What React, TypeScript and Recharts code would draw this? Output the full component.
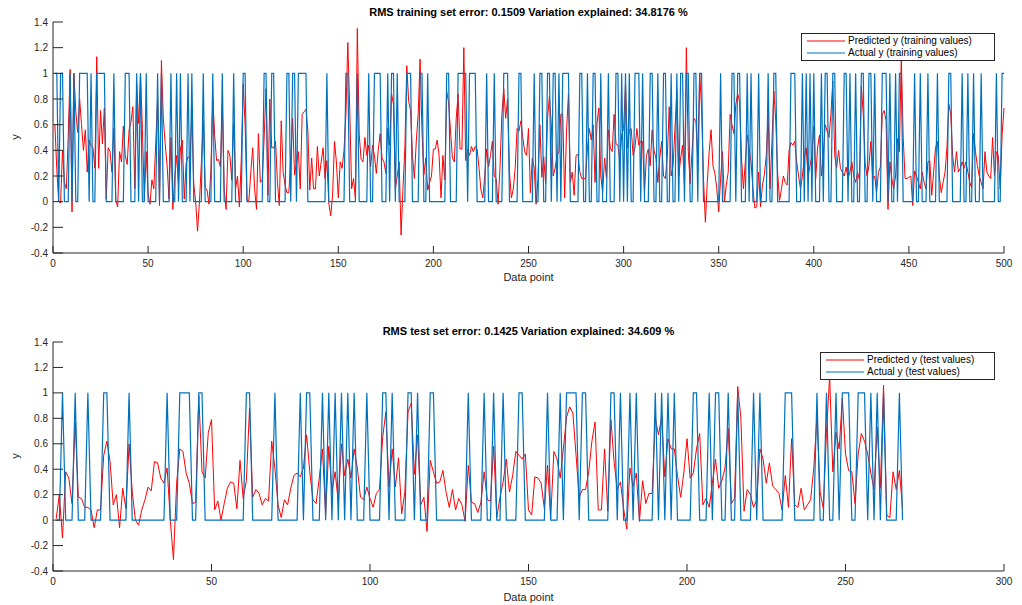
import { LineChart, Line, XAxis, YAxis } from "recharts";

// values, one per data point (x = 1..N)
const trainPredicted = [
  0.6, 0.25, 0.0, -0.01, 0.4, 0.15, 0.1, 0.5, 1.03, -0.08, 1.0, 0.7, 0.54, 0.8, 0.6, 0.4, 0.56, 0.23, 0.48, 0.44, 0.42, 0.26, 1.13, 0.26, 0.71,
  0.45, 0.73, 0.02, 0.42, 0.39, 0.23, 0.57, 0.01, -0.04, 0.39, 0.31, 0.59, 0.36, 0.29, 0.56, 0.62, 0.74, 0.1, 0.92, 0.61, 1.0, 0.57, 0.01, 0.39, 0.06,
  -0.02, 0.17, 0.1, 0.45, 0.81, -0.03, 1.1, 0.65, 0.45, 0.28, 0.02, 0.5, -0.06, 0.18, 0.36, 0.13, 0.41, 0.48, 0.02, 0.3, 0.35, 0.34, 0.68, 0.14, 0.0,
  -0.23, 0.0, 0.3, 0.63, 0.11, 0.09, -0.02, 0.24, 0.81, 0.52, 0.32, 0.33, 0.27, 0.76, 0.1, -0.06, 0.4, 0.36, 0.17, 0.61, 0.1, 0.2, -0.04, 0.34, 0.92,
  0.6, 0.01, 0.01, 0.23, 0.42, 0.1, -0.06, 0.53, 0.15, 0.17, 0.49, 0.88, 0.05, 0.8, 0.42, 0.42, 0.47, 0.15, -0.03, 0.63, 0.23, 0.13, 0.07, 0.07, 0.35,
  0.65, 0.21, 0.3, 0.39, 0.1, 0.68, 0.7, 0.72, 0.55, 0.09, 0.34, 0.1, 0.1, 0.43, 0.2, 0.31, 0.42, 0.18, 0.32, -0.01, -0.11, 0.05, 0.47, 0.31, 0.03,
  0.31, 0.26, 0.4, 0.68, 1.24, 0.73, 0.1, 0.18, 0.02, 1.35, 0.52, 0.33, 0.31, 0.5, 0.36, 0.44, 0.27, 0.44, 0.36, 0.22, 0.4, 0.53, 0.34, 0.31, 0.22,
  0.57, 0.44, 0.84, 0.76, 0.1, 0.2, 0.31, -0.26, 0.1, 0.42, 1.06, 0.78, 0.71, 0.36, 0.18, 0.47, 0.68, 1.11, 0.55, 0.21, 0.34, 0.09, 0.15, 0.2, 0.41,
  0.41, 0.48, 0.36, 0.03, 0.36, 0.17, 0.86, 0.77, 0.55, 0.34, 0.31, 0.65, 0.84, 0.41, 0.41, 1.2, 0.32, 0.41, 0.36, 0.43, 0.39, 0.43, 0.41, 0.26, 0.09,
  0.03, 0.2, 0.41, 0.27, 0.36, 0.47, 0.2, 0.18, -0.02, 0.26, 0.68, 0.88, 0.65, 0.8, 0.23, 0.03, 0.1, 0.26, 0.57, 0.55, 0.63, 0.5, 0.39, 0.36, 0.57,
  0.07, 0.34, 0.26, -0.02, 0.18, 0.6, 0.19, 0.35, 0.14, 0.65, 0.82, 0.6, 0.2, 0.26, 0.36, 0.39, 0.68, 0.68, 0.03, 0.55, 0.84, 0.15, 0.23, 0.05, 0.36,
  0.37, 0.23, 0.18, 0.18, 0.18, 0.42, 0.57, 0.48, 0.6, 0.15, 0.61, 0.73, 0.2, 0.07, 0.34, 0.18, 0.56, 0.42, 0.39, 0.68, 0.45, 0.44, 0.32, 0.52, 0.57,
  0.92, 0.42, 0.56, 0.57, 0.36, 0.42, 0.57, 0.44, 0.47, 0.47, 0.07, 0.36, 0.41, 0.28, 0.56, 0.4, 0.34, 0.15, 0.34, 0.47, 0.2, 0.18, 0.36, 0.74, 0.2,
  0.28, 0.57, 0.86, 0.2, 0.34, 0.44, 0.13, 1.2, 0.39, 0.14, 0.4, 0.65, 0.63, 0.34, 1.0, 0.73, 0.18, -0.16, 0.15, 0.39, 0.56, 0.28, 0.22, 0.1, -0.08,
  0.18, 0.39, 0.0, 0.13, 0.23, 0.68, 0.6, 0.53, 0.76, 0.84, 0.78, 0.34, 0.1, 0.31, 0.52, 0.42, 0.31, 0.1, -0.05, -0.04, 0.23, -0.04, 0.13, 0.21, 0.36,
  0.68, 0.1, 0.47, 0.86, 0.63, 0.22, 0.01, 0.1, 0.2, 0.15, 0.13, 0.4, 0.46, 0.44, 0.47, 0.31, 0.2, 0.1, 0.2, 0.34, 0.42, 0.2, 0.28, 0.36, 0.59,
  0.18, 0.42, 0.52, 0.2, 0.36, 0.6, 0.55, 0.5, 0.68, 0.94, 0.36, 0.26, 0.4, 0.26, 0.23, 0.2, 0.27, 0.18, 0.23, 0.31, 0.2, 0.15, 0.23, 0.17, 0.9,
  0.68, 0.3, 0.2, 0.28, 0.47, 0.18, 0.2, 0.07, 0.23, 0.27, 0.68, 0.71, 0.63, -0.06, 0.31, 0.18, 0.1, 0.2, 0.49, 0.39, 1.13, 0.5, 0.18, 0.18, 0.19,
  0.2, -0.03, 0.24, 0.2, 0.15, 0.1, 0.23, 0.15, 0.1, 0.31, 0.32, 0.05, 0.23, 0.42, 0.47, 0.2, 0.07, 0.15, 0.23, 0.42, 0.76, 0.68, 0.36, 0.23, 0.39,
  0.23, 0.26, 0.31, 0.26, 0.31, 0.23, 0.15, 0.11, 0.53, 0.39, 0.28, 0.2, 0.15, 0.1, 0.39, 0.23, 0.2, 0.18, 0.5, 0.2, 0.39, 0.36, 0.1, 0.52, 0.73,
];

const trainActual = [
  1, 1, 0, 1, 1, 0, 0, 0, 1, 0, 1, 0, 0, 1, 1, 1, 1, 1, 0, 1, 0, 0, 1, 1, 1,
  1, 1, 0, 0, 0, 0, 1, 0, 0, 0, 0, 0, 1, 1, 1, 0, 0, 0, 1, 0, 1, 0, 0, 1, 0,
  0, 0, 0, 0, 1, 0, 1, 0, 0, 0, 0, 1, 0, 0, 1, 0, 1, 0, 0, 0, 1, 0, 1, 0, 0,
  0, 0, 0, 1, 0, 0, 0, 0, 1, 0, 0, 0, 0, 1, 0, 0, 0, 0, 0, 1, 0, 0, 0, 0, 1,
  1, 0, 0, 0, 0, 0, 0, 0, 0, 0, 1, 1, 0, 0, 1, 1, 0, 0, 0, 0, 0, 0, 1, 1, 0,
  1, 1, 0, 1, 1, 1, 1, 1, 0, 0, 0, 0, 0, 0, 0, 0, 0, 0, 1, 0, 0, 0, 0, 0, 0,
  0, 0, 0, 1, 1, 0, 0, 0, 0, 1, 0, 0, 0, 0, 0, 1, 0, 0, 1, 1, 1, 1, 0, 0, 0,
  1, 0, 1, 1, 0, 1, 0, 0, 0, 0, 1, 1, 1, 0, 0, 0, 0, 1, 1, 0, 0, 1, 0, 0, 0,
  0, 0, 0, 0, 0, 0, 1, 1, 0, 0, 0, 0, 1, 1, 1, 1, 1, 0, 1, 1, 1, 1, 0, 0, 0,
  0, 0, 1, 0, 0, 0, 1, 0, 0, 0, 0, 1, 1, 1, 0, 0, 0, 0, 0, 1, 1, 0, 0, 0, 0,
  0, 0, 1, 0, 0, 1, 1, 0, 0, 1, 1, 0, 1, 1, 0, 1, 0, 1, 1, 1, 1, 0, 0, 0, 0,
  0, 1, 1, 0, 0, 1, 0, 0, 1, 1, 0, 0, 1, 0, 0, 0, 1, 0, 0, 0, 1, 1, 0, 1, 0,
  1, 0, 1, 0, 0, 1, 1, 1, 0, 1, 0, 0, 0, 1, 1, 0, 0, 1, 0, 0, 1, 1, 0, 0, 1,
  0, 0, 1, 0, 1, 1, 0, 1, 1, 0, 0, 1, 1, 0, 1, 1, 0, 0, 0, 0, 0, 0, 0, 0, 0,
  1, 0, 0, 0, 0, 0, 1, 1, 0, 1, 1, 0, 0, 0, 1, 0, 1, 0, 0, 0, 1, 0, 0, 0, 0,
  1, 0, 0, 1, 1, 0, 0, 0, 0, 0, 0, 0, 1, 1, 1, 0, 0, 0, 1, 0, 1, 0, 1, 0, 1,
  0, 0, 0, 1, 0, 1, 1, 0, 0, 1, 1, 0, 0, 0, 0, 1, 1, 0, 1, 0, 0, 1, 0, 0, 1,
  1, 0, 0, 1, 1, 0, 1, 0, 0, 0, 1, 1, 1, 0, 1, 0, 0, 1, 0, 1, 1, 0, 0, 0, 0,
  0, 0, 1, 0, 0, 1, 0, 0, 0, 1, 0, 0, 0, 0, 1, 0, 0, 0, 0, 0, 1, 1, 0, 0, 0,
  0, 0, 1, 0, 0, 1, 0, 0, 1, 0, 0, 0, 1, 0, 0, 0, 0, 0, 0, 0, 1, 0, 0, 1, 1,
];

const testPredicted = [
  0.01, 0.2, -0.14, 0.38, 0.33, 0.13, 0.77, 0.18, 0.17, 0.1, 0.1, 0.08, -0.06, 0.08, 0.08, 0.51, 0.62, 0.46, 0.12, 0.2, -0.06, 0.25, 0.09, 0.6, 0.22,
  0.0, -0.04, 0.08, 0.16, 0.26, 0.23, 0.46, 0.45, 0.33, 0.29, 0.41, 0.0, -0.31, 0.29, 0.56, 0.54, 0.37, 0.29, 0.13, 0.14, 0.98, 0.38, 0.33, 0.69, 0.79,
  0.08, 0.15, 0.0, 0.13, 0.25, 0.3, 0.29, 0.09, 0.47, 0.17, 0.31, 0.88, 0.18, 0.24, 0.21, 0.12, 0.17, 0.15, 0.62, 0.41, 0.12, 0.02, 0.16, 0.12, 0.25,
  0.35, 0.37, 0.34, 0.41, 0.67, 0.38, 0.16, 0.13, 0.33, 0.56, 0.04, 0.58, 0.22, 0.38, 0.14, 0.6, 0.35, 0.48, 0.33, 0.56, 0.41, 0.18, 0.16, 0.26, 0.17,
  0.1, 0.21, 0.24, 0.65, 0.85, 0.26, 0.56, 0.26, 0.49, 0.05, 0.22, 0.85, 0.92, 0.36, 0.67, 0.12, 0.18, -0.09, 0.47, 0.38, 0.29, 0.3, 0.39, 0.22, 0.1,
  0.24, 0.08, 0.17, 0.12, -0.01, 0.43, 0.14, 0.13, 0.06, 0.14, 0.38, 0.16, 0.15, 0.58, 0.02, 0.18, 0.3, 0.48, 0.22, 0.35, 0.54, 0.51, 0.48, 0.52, 0.08,
  0.04, 0.34, 0.33, 0.29, 0.09, 0.43, 0.01, 0.54, 0.48, 0.33, 0.56, 0.81, 0.89, 0.84, 0.51, 0.18, 0.24, 0.24, 0.38, 0.62, 0.77, 0.08, 0.08, 0.56, 0.07,
  0.79, 0.46, 0.24, 0.3, 0.09, -0.07, 0.41, 0.26, 0.37, -0.01, 0.31, 0.13, 0.21, 0.21, 0.8, 0.67, 0.81, 0.34, 0.64, 0.56, 0.56, 0.35, 0.18, 0.37, 0.64,
  0.33, 0.37, 0.56, 0.68, 0.12, 0.17, 0.1, 0.29, 0.48, 0.25, 0.31, 0.41, 0.72, 0.13, 0.17, 1.05, 0.8, 0.07, 0.24, 0.2, 0.1, 0.16, 0.56, 0.48, 0.29,
  0.45, 0.27, 0.24, 0.21, 0.08, 0.35, 0.1, 0.64, 0.12, 0.1, 0.25, 0.08, 0.12, 0.16, 0.41, 0.81, 0.22, 0.09, 0.69, 1.13, 0.38, 0.69, 0.56, 0.96, 0.52,
  0.39, 0.38, 0.13, 0.52, 0.68, 0.62, 0.52, 0.37, 0.24, 0.73, 0.25, 1.06, 0.04, 0.02, 0.38, 0.24, 0.39, 0.09,
];

const testActual = [
  0, 0, 1, 0, 0, 0, 1, 0, 0, 0, 1, 0, 0, 0, 0, 1, 1, 0, 0, 0, 0, 0, 0, 1, 0,
  0, 0, 0, 0, 0, 0, 0, 0, 0, 0, 1, 0, 0, 0, 1, 1, 1, 1, 0, 0, 1, 1, 0, 0, 0,
  0, 0, 0, 0, 0, 0, 0, 0, 0, 0, 1, 1, 0, 0, 0, 0, 0, 0, 0, 1, 0, 0, 0, 0, 0,
  0, 0, 1, 0, 1, 1, 0, 0, 0, 1, 0, 1, 0, 1, 0, 1, 0, 1, 0, 1, 0, 0, 0, 1, 0,
  0, 0, 0, 1, 1, 0, 1, 0, 0, 0, 0, 1, 1, 0, 1, 0, 0, 0, 1, 1, 0, 0, 0, 0, 0,
  0, 0, 0, 0, 0, 1, 0, 0, 0, 0, 1, 0, 0, 1, 0, 0, 1, 0, 0, 0, 0, 1, 1, 0, 0,
  0, 0, 0, 0, 0, 1, 0, 0, 0, 1, 0, 1, 1, 1, 1, 0, 1, 1, 0, 0, 0, 0, 0, 0, 0,
  1, 1, 0, 1, 0, 0, 1, 0, 1, 0, 0, 0, 0, 0, 1, 0, 1, 0, 1, 0, 1, 0, 0, 0, 0,
  0, 1, 1, 0, 0, 0, 1, 0, 1, 1, 0, 0, 1, 0, 0, 1, 0, 0, 0, 0, 1, 0, 1, 0, 0,
  0, 0, 0, 0, 0, 1, 1, 1, 0, 0, 0, 0, 0, 0, 0, 1, 0, 0, 1, 0, 0, 1, 0, 1, 1,
  1, 0, 0, 1, 1, 1, 0, 1, 0, 1, 0, 1, 0, 0, 0, 0, 1, 0,
];

const trainXTicks = [0, 50, 100, 150, 200, 250, 300, 350, 400, 450, 500];
const testXTicks = [0, 50, 100, 150, 200, 250, 300];
const yTicks = [-0.4, -0.2, 0, 0.2, 0.4, 0.6, 0.8, 1, 1.2, 1.4];

const trainData = trainPredicted.map((p, i) => ({ x: i + 1, predicted: p, actual: trainActual[i] }));
const testData = testPredicted.map((p, i) => ({ x: i + 1, predicted: p, actual: testActual[i] }));

const FONT = '"Liberation Sans", Arial, Helvetica, sans-serif';
const AXIS = "#262626";
const RED = "#ff0000";
const BLUE = "#0072bd";

const PLOT_LEFT = 53;
const PLOT_RIGHT = 1004;

// inward tick marks like MATLAB's box axes
const bottomTick = (axisY: number) => (props: any) => {
  const { x, payload } = props;
  return (
    <g>
      <line x1={x} x2={x} y1={axisY} y2={axisY - 7} stroke={AXIS} strokeWidth={1} />
      <text x={x} y={axisY + 14} textAnchor="middle" fontSize={10} fill={AXIS} fontFamily={FONT}>
        {payload.value}
      </text>
    </g>
  );
};

const topTick = (axisY: number) => (props: any) => {
  const { x } = props;
  return <line x1={x} x2={x} y1={axisY} y2={axisY + 7} stroke={AXIS} strokeWidth={1} />;
};

const leftTick = (props: any) => {
  const { y, payload } = props;
  return (
    <g>
      <line x1={PLOT_LEFT} x2={PLOT_LEFT + 10} y1={y} y2={y} stroke={AXIS} strokeWidth={1} />
      <text x={PLOT_LEFT - 5} y={y + 3.5} textAnchor="end" fontSize={10} fill={AXIS} fontFamily={FONT}>
        {String(payload.value)}
      </text>
    </g>
  );
};

const rightTick = (props: any) => {
  const { y } = props;
  return <line x1={PLOT_RIGHT} x2={PLOT_RIGHT - 10} y1={y} y2={y} stroke={AXIS} strokeWidth={1} />;
};

type PanelProps = {
  data: { x: number; predicted: number; actual: number }[];
  xMax: number;
  xTicks: number[];
  top: number;
  height: number;
  plotTop: number;
  plotBottom: number;
};

const Panel = ({ data, xMax, xTicks, top, height, plotTop, plotBottom }: PanelProps) => (
  <div style={{ position: "absolute", left: 0, top }}>
    <LineChart
      width={1022}
      height={height}
      data={data}
      margin={{ top: plotTop, right: 1022 - PLOT_RIGHT, bottom: height - plotBottom - 20, left: PLOT_LEFT - 45 }}
    >
      <XAxis
        dataKey="x"
        type="number"
        domain={[0, xMax]}
        ticks={xTicks}
        interval={0}
        height={20}
        tickLine={false}
        axisLine={{ stroke: AXIS }}
        tick={bottomTick(plotBottom)}
      />
      <XAxis
        xAxisId="top"
        orientation="top"
        dataKey="x"
        type="number"
        domain={[0, xMax]}
        ticks={xTicks}
        interval={0}
        height={0}
        tickLine={false}
        axisLine={{ stroke: AXIS }}
        tick={topTick(plotTop)}
      />
      <YAxis
        type="number"
        domain={[-0.4, 1.4]}
        ticks={yTicks}
        interval={0}
        width={45}
        tickLine={false}
        axisLine={{ stroke: AXIS }}
        tick={leftTick}
        allowDataOverflow
      />
      <YAxis
        yAxisId="right"
        orientation="right"
        type="number"
        domain={[-0.4, 1.4]}
        ticks={yTicks}
        interval={0}
        width={0}
        tickLine={false}
        axisLine={{ stroke: AXIS }}
        tick={rightTick}
        allowDataOverflow
      />
      <Line type="linear" dataKey="predicted" stroke={RED} strokeWidth={1} dot={false} isAnimationActive={false} />
      <Line type="linear" dataKey="actual" stroke={BLUE} strokeWidth={1.2} dot={false} isAnimationActive={false} />
    </LineChart>
  </div>
);

const Legend = ({ left, top, width, labels }: { left: number; top: number; width: number; labels: string[] }) => (
  <div
    style={{
      position: "absolute",
      left,
      top,
      width,
      height: 26,
      border: `1px solid ${AXIS}`,
      background: "#fff",
      fontFamily: FONT,
      fontSize: 10,
      color: "#000",
    }}
  >
    {labels.map((label, i) => (
      <div key={label} style={{ position: "absolute", left: 0, top: 1 + i * 12, height: 12, width: "100%" }}>
        <svg width={44} height={12} style={{ position: "absolute", left: 3, top: 0 }}>
          <line x1={2} x2={40} y1={6} y2={6} stroke={i === 0 ? RED : BLUE} strokeWidth={1.2} />
        </svg>
        <span style={{ position: "absolute", left: 46, top: 0, lineHeight: "12px", whiteSpace: "nowrap" }}>{label}</span>
      </div>
    ))}
  </div>
);

const Title = ({ top, text }: { top: number; text: string }) => (
  <div
    style={{
      position: "absolute",
      left: PLOT_LEFT,
      width: PLOT_RIGHT - PLOT_LEFT,
      top,
      textAlign: "center",
      fontFamily: FONT,
      fontWeight: "bold",
      fontSize: 11,
      lineHeight: "14px",
      color: "#000",
    }}
  >
    {text}
  </div>
);

const AxisText = ({ top, text }: { top: number; text: string }) => (
  <div
    style={{
      position: "absolute",
      left: PLOT_LEFT,
      width: PLOT_RIGHT - PLOT_LEFT,
      top,
      textAlign: "center",
      fontFamily: FONT,
      fontSize: 11,
      lineHeight: "14px",
      color: AXIS,
    }}
  >
    {text}
  </div>
);

const YLabel = ({ top }: { top: number }) => (
  <div
    style={{
      position: "absolute",
      left: 8,
      top,
      width: 14,
      height: 14,
      lineHeight: "14px",
      textAlign: "center",
      fontFamily: FONT,
      fontSize: 11,
      color: AXIS,
      transform: "rotate(-90deg)",
    }}
  >
    y
  </div>
);

export default function App() {
  return (
    <div style={{ position: "absolute", left: 0, top: 0, width: 1022, height: 605, background: "#fff", overflow: "hidden" }}>
      <Title top={5} text="RMS training set error: 0.1509 Variation explained: 34.8176 %" />
      <Panel data={trainData} xMax={500} xTicks={trainXTicks} top={0} height={300} plotTop={22} plotBottom={253} />
      <AxisText top={270} text="Data point" />
      <YLabel top={130} />
      <Legend
        left={801}
        top={33}
        width={192}
        labels={["Predicted y (training values)", "Actual y (training values)"]}
      />

      <Title top={324} text="RMS test set error: 0.1425 Variation explained: 34.609 %" />
      <Panel data={testData} xMax={300} xTicks={testXTicks} top={320} height={285} plotTop={22} plotBottom={251} />
      <AxisText top={590} text="Data point" />
      <YLabel top={449} />
      <Legend
        left={820}
        top={352}
        width={173}
        labels={["Predicted y (test values)", "Actual y (test values)"]}
      />
    </div>
  );
}
